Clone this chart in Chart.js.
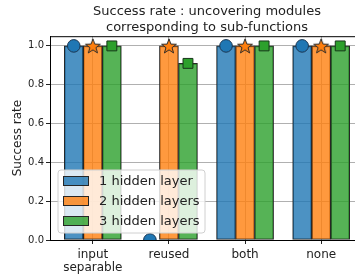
<!DOCTYPE html>
<html>
<head>
<meta charset="utf-8">
<script src="https://cdn.jsdelivr.net/npm/chart.js@4.4.0/dist/chart.umd.min.js"></script>
<style>
  html, body { margin: 0; padding: 0; background: #fff; overflow: hidden; }
  canvas { display: block; }
</style>
</head>
<body>
<canvas id="chart" width="366" height="276"></canvas>
<script>
// values
const categories = ['input\nseparable', 'reused', 'both', 'none'];
const seriesLabels = ['1 hidden layer', '2 hidden layers', '3 hidden layers'];
const oneLayer = [1.0, 0.0, 1.0, 1.0];
const twoLayers = [1.0, 1.0, 1.0, 1.0];
const threeLayers = [1.0, 0.91, 1.0, 1.0];
const yTicks = [0.0, 0.2, 0.4, 0.6, 0.8, 1.0];

const FONT = 'DejaVu Sans';
const TEXT = '#222';
const GRID = '#b0b0b0';
const colors = ['#1f77b4', '#ff7f0e', '#2ca02c'];
const fills = ['rgba(31,119,180,0.8)', 'rgba(255,127,14,0.8)', 'rgba(44,160,44,0.8)'];
const offsets = [-0.25, 0, 0.25];

function starImage(fill) {
  const c = document.createElement('canvas');
  c.width = 18; c.height = 18;
  const g = c.getContext('2d');
  const R = 7.8, r = 3.2;
  g.beginPath();
  for (let i = 0; i < 10; i += 1) {
    const rad = i % 2 === 0 ? R : r;
    const a = -Math.PI / 2 + i * Math.PI / 5;
    const x = 9 + rad * Math.cos(a), y = 9.7 + rad * Math.sin(a);
    if (i === 0) g.moveTo(x, y); else g.lineTo(x, y);
  }
  g.closePath();
  g.fillStyle = fill;
  g.fill();
  g.strokeStyle = '#2b2b2b';
  g.lineWidth = 1;
  g.stroke();
  return c;
}

const series = [oneLayer, twoLayers, threeLayers];
const toPoints = (vals, k) => vals.map((v, i) => ({ x: i + offsets[k], y: v }));

const markerSets = [
  { pointStyle: 'circle', pointRadius: 6.3, pointBackgroundColor: colors[0], pointBorderColor: '#1b3550' },
  { pointStyle: starImage(colors[1]), pointRadius: 8 },
  { pointStyle: 'rect', pointRadius: 7, pointBackgroundColor: colors[2], pointBorderColor: '#17361a' },
].map((m, k) => ({
  type: 'scatter',
  label: 'marker ' + k,
  data: toPoints(series[k], k),
  pointBorderWidth: 1,
  clip: 0,
  order: 0,
  ...m,
}));

const barSets = series.map((vals, k) => ({
  type: 'bar',
  label: seriesLabels[k],
  data: toPoints(vals, k),
  backgroundColor: fills[k],
  borderColor: '#262626',
  borderWidth: 1,
  borderSkipped: false,
  grouped: false,
  barThickness: 19,
  order: 1,
}));

// top spine + legend box inside the plot (matplotlib style)
const framePlugin = {
  id: 'frame',
  beforeDatasetsDraw(chart) {
    const { ctx, chartArea: a } = chart;
    ctx.save();
    ctx.strokeStyle = '#000';
    ctx.lineWidth = 1;
    ctx.beginPath();
    ctx.moveTo(a.left, a.top + 0.5);
    ctx.lineTo(a.right, a.top + 0.5);
    ctx.stroke();
    ctx.restore();
  },
  afterDraw(chart) {
    const { ctx } = chart;
    const x0 = 58, y0 = 170, w = 147, h = 63, rr = 3;
    ctx.save();
    ctx.beginPath();
    ctx.moveTo(x0 + rr, y0);
    ctx.arcTo(x0 + w, y0, x0 + w, y0 + h, rr);
    ctx.arcTo(x0 + w, y0 + h, x0, y0 + h, rr);
    ctx.arcTo(x0, y0 + h, x0, y0, rr);
    ctx.arcTo(x0, y0, x0 + w, y0, rr);
    ctx.closePath();
    ctx.fillStyle = 'rgba(255,255,255,0.8)';
    ctx.fill();
    ctx.strokeStyle = '#d0d0d0';
    ctx.lineWidth = 1;
    ctx.stroke();
    ctx.font = '13px "' + FONT + '"';
    ctx.textBaseline = 'middle';
    barSets.forEach((ds, k) => {
      const cy = 181 + k * 20;
      ctx.fillStyle = ds.backgroundColor;
      ctx.fillRect(63, cy - 5, 26, 10);
      ctx.strokeStyle = ds.borderColor;
      ctx.strokeRect(63.5, cy - 4.5, 25, 9);
      ctx.fillStyle = TEXT;
      ctx.fillText(ds.label, 99, cy + 0.5);
    });
    ctx.restore();
  },
};

new Chart(document.getElementById('chart'), {
  data: { datasets: [...markerSets, ...barSets] },
  options: {
    responsive: false,
    animation: false,
    // plot area runs a little past the 355px window, like the cropped reference
    layout: { autoPadding: false, padding: { left: 0, right: 2, top: 0, bottom: 0 } },
    plugins: {
      legend: { display: false },
      tooltip: { enabled: false },
      title: {
        display: true,
        fullSize: false,
        text: ['Success rate : uncovering modules', 'corresponding to sub-functions'],
        color: TEXT,
        font: { family: FONT, size: 13, weight: 'normal', lineHeight: 1.2 },
        padding: { top: 4, bottom: 1 },
      },
    },
    scales: {
      x: {
        type: 'linear',
        min: -0.5625,
        max: 3.5625,
        offset: false,
        afterFit: (s) => { s.height = 36; },
        afterBuildTicks: (s) => { s.ticks = categories.map((_, i) => ({ value: i })); },
        ticks: {
          color: TEXT,
          padding: 4,
          font: { family: FONT, size: 12, lineHeight: 1.1 },
          callback: (v) => categories[v].split('\n'),
        },
        grid: { offset: false, color: GRID, lineWidth: 1, tickColor: '#222', tickLength: 4 },
        border: { color: '#000', width: 1 },
      },
      y: {
        min: 0,
        max: 1.05,
        afterFit: (s) => { s.width = 50; },
        afterBuildTicks: (s) => { s.ticks = yTicks.map((v) => ({ value: v })); },
        ticks: {
          color: TEXT,
          padding: 2,
          font: { family: FONT, size: 10 },
          callback: (v) => v.toFixed(1),
        },
        grid: { color: GRID, lineWidth: 1, tickColor: '#222', tickLength: 4 },
        border: { color: '#000', width: 1 },
        title: {
          display: true,
          text: 'Success rate',
          color: TEXT,
          font: { family: FONT, size: 12 },
          padding: { top: 11, bottom: 0 },
        },
      },
    },
  },
  plugins: [framePlugin],
});
</script>
</body>
</html>
